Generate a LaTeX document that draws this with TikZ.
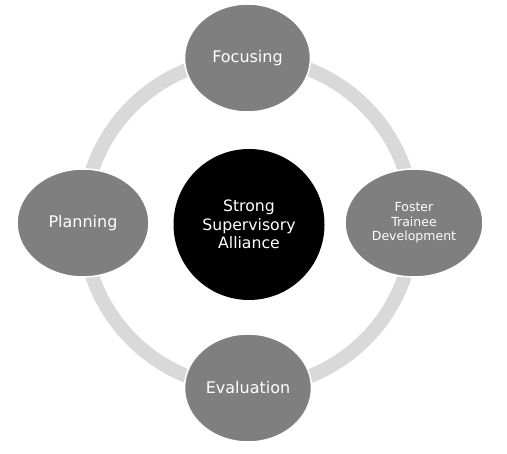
\documentclass[tikz,border=0pt]{standalone}
\usepackage{fontspec}
\setmainfont{DejaVu Sans}
\usetikzlibrary{shapes.geometric}
\usetikzlibrary{positioning}
\definecolor{ringgray}{HTML}{D9D9D9}
\definecolor{stepgray}{HTML}{7F7F7F}

\begin{document}
\begin{tikzpicture}[x=1pt,y=1pt]
  \tikzset{phase/.style = {shape=ellipse,fill=stepgray,draw=white,line width=1.5pt,
      text=white,inner sep=0pt,minimum height=108pt,align=center,
      font=\fontsize{16}{19}\selectfont}}
  \tikzset{core/.style = {shape=circle,fill=black,text=white,inner sep=0pt,
      minimum size=151pt,align=center,font=\fontsize{15.7}{18.5}\selectfont}}
  \tikzset{ring/.style = {draw=ringgray,line width=14pt}}

  \useasboundingbox (0,0) rectangle (507,454);

  \coordinate (mid) at (248.5,231);
  \draw[ring] (mid) circle (165);

  \node[core] (alliance) at (249,229.5) {Strong\\Supervisory\\Alliance};

  \node[phase, minimum width=126pt] (focus) at (247.5,396) {Focusing};
  \node[phase, minimum width=132pt] (plan) at (83,231) {Planning};
  \node[phase, minimum width=138pt, font=\fontsize{12.5}{14.5}\selectfont]
    (foster) at (414,231) {Foster\\Trainee\\Development};
  \node[phase, minimum width=127pt] (eval) at (248,66) {Evaluation};
\end{tikzpicture}
\end{document}
